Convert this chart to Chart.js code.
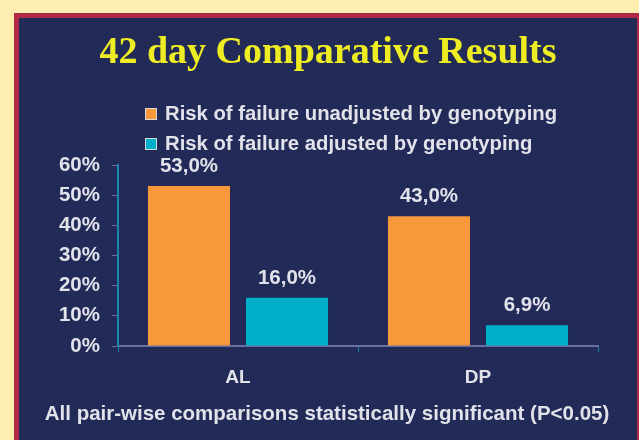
<!DOCTYPE html>
<html lang="en">
  <head>
    <meta charset="UTF-8" />
    <title>42 day Comparative Results</title>
    <script src="https://cdn.jsdelivr.net/npm/chart.js"></script>
    <style>
      html, body {
        margin: 0;
        padding: 0;
        width: 639px;
        height: 440px;
        overflow: hidden;
        background: #fdeeb0;
      }
      #panel {
        position: absolute;
        left: 14px;
        top: 13px;
        width: 628px;
        height: 460px;
        box-sizing: border-box;
        border: 5px solid #b02a48;
        background: #222a58;
      }
      canvas {
        position: absolute;
        left: 0;
        top: 0;
      }
    </style>
  </head>
  <body>
    <div id="panel"></div>
    <canvas id="plot" width="639" height="440"></canvas>
    <script>
      const categories = ["AL", "DP"];
      const unadjusted = [53.0, 43.0];
      const adjusted = [16.0, 6.9];
      const seriesNames = [
        "Risk of failure unadjusted by genotyping",
        "Risk of failure adjusted by genotyping",
      ];
      const seriesColors = ["#f7993a", "#00afc8"];
      const yTicks = [0, 10, 20, 30, 40, 50, 60];

      const title = "42 day Comparative Results";
      const footer = "All pair-wise comparisons statistically significant (P<0.05)";

      const textColor = "#e2e2ea";
      const sans = "'Liberation Sans', Arial, sans-serif";

      // title, legend, footer and value labels drawn straight on the canvas
      const decorations = {
        id: "decorations",
        afterDatasetsDraw(chart) {
          const ctx = chart.ctx;
          ctx.save();

          ctx.fillStyle = "#eeec22";
          ctx.font = "bold 38px 'Liberation Serif', 'Times New Roman', serif";
          ctx.textAlign = "center";
          ctx.textBaseline = "alphabetic";
          ctx.fillText(title, 328, 63);

          ctx.font = "bold 20.3px " + sans;
          ctx.textAlign = "left";
          chart.data.datasets.forEach((ds, i) => {
            const y = 108 + i * 30;
            ctx.fillStyle = ds.backgroundColor;
            ctx.fillRect(145, y, 12, 12);
            ctx.strokeStyle = "#d8d8e0";
            ctx.lineWidth = 1;
            ctx.strokeRect(145.5, y + 0.5, 11, 11);
            ctx.fillStyle = textColor;
            ctx.fillText(ds.label, 165, y + 12);
          });

          ctx.font = "bold 20.5px " + sans;
          ctx.textAlign = "center";
          ctx.fillStyle = textColor;
          chart.data.datasets.forEach((ds, i) => {
            chart.getDatasetMeta(i).data.forEach((bar, j) => {
              const txt = ds.data[j].toFixed(1).replace(".", ",") + "%";
              ctx.fillText(txt, bar.x, bar.y - 14);
            });
          });

          ctx.fillText(footer, 327, 420);
          ctx.restore();
        },
      };

      new Chart(document.getElementById("plot"), {
        type: "bar",
        data: {
          labels: categories,
          datasets: [
            {
              label: seriesNames[0],
              data: unadjusted,
              backgroundColor: seriesColors[0],
            },
            {
              label: seriesNames[1],
              data: adjusted,
              backgroundColor: seriesColors[1],
            },
          ],
        },
        options: {
          responsive: false,
          animation: false,
          devicePixelRatio: 1,
          categoryPercentage: 0.817,
          barPercentage: 0.837,
          layout: {
            padding: { left: 0, right: 41, top: 165, bottom: 54 },
          },
          plugins: {
            legend: { display: false },
            tooltip: { enabled: false },
          },
          scales: {
            x: {
              afterFit: (s) => {
                s.height = 40;
              },
              grid: {
                drawOnChartArea: false,
                tickLength: 6,
                color: "#1a7fa6",
              },
              border: { color: "#6a6ea0", width: 2 },
              ticks: {
                color: textColor,
                padding: 14,
                font: { family: sans, size: 19, weight: "bold" },
              },
            },
            y: {
              min: 0,
              max: 60,
              afterFit: (s) => {
                s.width = 118;
              },
              afterBuildTicks: (s) => {
                s.ticks = yTicks.map((v) => ({ value: v }));
              },
              grid: {
                drawOnChartArea: false,
                tickLength: 6,
                color: "#6a6ea0",
              },
              border: { color: "#1a86b0", width: 2 },
              ticks: {
                color: textColor,
                padding: 12,
                callback: (v) => v + "%",
                font: { family: sans, size: 20.5, weight: "bold" },
              },
            },
          },
        },
        plugins: [decorations],
      });
    </script>
  </body>
</html>
